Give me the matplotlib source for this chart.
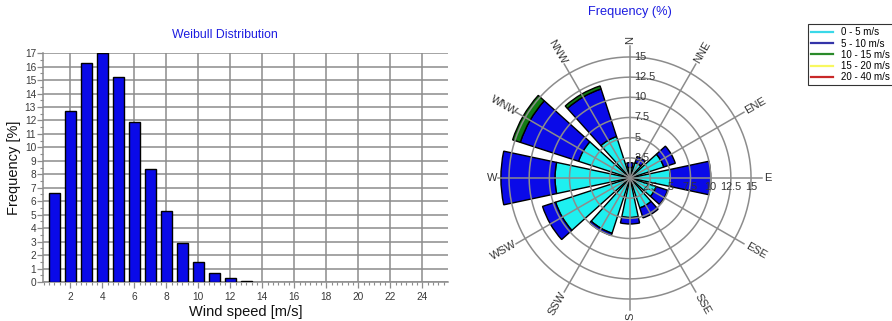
#!/usr/bin/env python3
"""
Weibull histogram of wind speed (left) and wind rose by speed class (right).
"""

import numpy as np
import matplotlib
matplotlib.use("Agg")
import matplotlib.pyplot as plt
from matplotlib.lines import Line2D
from matplotlib.ticker import MultipleLocator, AutoMinorLocator

plt.rcParams["font.family"] = ["Liberation Sans", "DejaVu Sans"]

# ── Weibull distribution (frequency % per 1 m/s bin) ────────────────────────
wind_bins = [1, 2, 3, 4, 5, 6, 7, 8, 9, 10, 11, 12, 13]
weibull_freq = [6.6, 12.7, 16.3, 17.0, 15.2, 11.9, 8.4, 5.3, 2.9, 1.5, 0.7, 0.28, 0.07]

# ── Wind rose: 12 sectors, frequency % per speed class ─────────────────────
sectors = ["N", "NNE", "ENE", "E", "ESE", "SSE", "S", "SSW", "WSW", "W", "WNW", "NNW"]
sector_deg = [0, 30, 60, 90, 120, 150, 180, 210, 240, 270, 300, 330]
freq_0_5 = [1.3, 2.0, 4.4, 5.0, 3.4, 3.9, 4.9, 7.2, 9.7, 9.3, 6.7, 5.4]
freq_5_10 = [0.6, 0.8, 1.5, 5.0, 1.5, 1.3, 0.8, 0.3, 1.7, 6.7, 7.6, 6.2]
freq_10_15 = [0, 0, 0, 0, 0, 0, 0, 0, 0, 0, 1.0, 0.4]
freq_15_20 = [0] * 12
freq_20_40 = [0] * 12

speed_classes = ["0 - 5 m/s", "5 - 10 m/s", "10 - 15 m/s", "15 - 20 m/s", "20 - 40 m/s"]
class_fill = ["#1ef0f0", "#0a0ae8", "#127a12", "#f5f53a", "#d02020"]
class_line = ["#3ad8e8", "#3434a8", "#2a8a2a", "#f8f860", "#c82828"]

ring_values = [2.5, 5, 7.5, 10, 12.5, 15]
ring_labels = ["2.5", "5", "7.5", "10", "12.5", "15"]

BLUE_TITLE = "#1c1ce0"
GRID = "#8c8c8c"
TICK_TXT = "#3a3a3a"


def draw_weibull(fig):
    ax = fig.add_axes([0.0482, 0.1215, 0.454, 0.713])
    ax.bar(wind_bins, weibull_freq, width=0.7, color="#0a0ae8",
           edgecolor="black", linewidth=1.0, zorder=3)

    ax.set_xlim(0.3, 25.6)
    ax.set_ylim(0, 17)
    ax.xaxis.set_major_locator(MultipleLocator(2))
    ax.xaxis.set_minor_locator(AutoMinorLocator(6))
    ax.yaxis.set_major_locator(MultipleLocator(1))
    ax.yaxis.set_minor_locator(MultipleLocator(0.5))
    ax.set_xticks(np.arange(2, 25, 2))

    ax.grid(True, which="major", color=GRID, linewidth=1.1, zorder=0)
    for side in ["top", "right"]:
        ax.spines[side].set_visible(False)
    for side in ["left", "bottom"]:
        ax.spines[side].set_color(GRID)
        ax.spines[side].set_linewidth(1.1)

    ax.tick_params(which="both", colors=GRID, labelcolor=TICK_TXT, labelsize=7.3)
    ax.tick_params(which="major", length=4, width=0.9)
    ax.tick_params(which="minor", length=2.5, width=0.8)
    ax.tick_params(axis="y", pad=1)

    ax.set_xlabel("Wind speed [m/s]", fontsize=10.5, labelpad=2, color="#111111")
    ax.set_ylabel("Frequency [%]", fontsize=10.5, labelpad=3, color="#111111")
    fig.text(225 / 892, 1 - 35 / 321, "Weibull Distribution", color=BLUE_TITLE,
             fontsize=8.8, ha="center", va="center")


def draw_rose(fig):
    ax = fig.add_axes([0.548, 0.0056, 0.3166, 0.8798], projection="polar")
    ax.set_theta_zero_location("N")
    ax.set_theta_direction(-1)
    ax.set_ylim(0, 17.5)
    ax.grid(False)
    ax.spines["polar"].set_visible(False)
    ax.set_xticks([])
    ax.set_yticks([])
    ax.patch.set_alpha(0)

    theta = np.deg2rad(sector_deg)
    width = np.deg2rad(24)
    bottom = np.zeros(len(sectors))
    for vals, col in zip([freq_0_5, freq_5_10, freq_10_15, freq_15_20, freq_20_40],
                         class_fill):
        vals = np.asarray(vals, dtype=float)
        mask = vals > 0
        ax.bar(theta[mask], vals[mask], width=width, bottom=bottom[mask],
               color=col, edgecolor="black", linewidth=1.0, zorder=2)
        bottom += vals

    # rings and spokes are drawn over the bars
    circ = np.linspace(0, 2 * np.pi, 361)
    for r in ring_values:
        ax.plot(circ, np.full_like(circ, r), color=GRID, linewidth=1.1, zorder=4)
    for t in theta:
        ax.plot([t, t], [0, 16.3], color=GRID, linewidth=1.1, zorder=4)

    # compass labels, rotated along each spoke
    for name, deg in zip(sectors, sector_deg):
        rot = (90 - deg) % 180
        if rot > 90:
            rot -= 180
        r_lab = 17.1 if len(name) == 1 else 18.0
        ax.text(np.deg2rad(deg), r_lab, name, rotation=rot, rotation_mode="anchor",
                ha="center", va="center", fontsize=8, color="#333333", zorder=5)

    # ring values along the N and E spokes
    for r, lab in zip(ring_values, ring_labels):
        ax.annotate(lab, xy=(0, r), xytext=(3, 0), textcoords="offset points",
                    ha="left", va="center", fontsize=7.8, color="#333333", zorder=5)
        ax.annotate(lab, xy=(np.pi / 2, r), xytext=(0, -3), textcoords="offset points",
                    ha="center", va="top", fontsize=7.8, color="#333333", zorder=5)

    fig.text(630 / 892, 1 - 12 / 321, "Frequency (%)", color=BLUE_TITLE,
             fontsize=9.2, ha="center", va="center")

    handles = [Line2D([], [], color=c, linewidth=1.6) for c in class_line]
    leg = fig.legend(handles, speed_classes, loc="upper left",
                     bbox_to_anchor=(808 / 892, 1 - 24 / 321), fontsize=7,
                     frameon=True, fancybox=False, handlelength=2.2,
                     handletextpad=0.8, labelspacing=0.12, borderpad=0.35,
                     borderaxespad=0)
    leg.get_frame().set_edgecolor("black")
    leg.get_frame().set_linewidth(0.8)


def main():
    fig = plt.figure(figsize=(8.92, 3.21), dpi=100)
    draw_weibull(fig)
    draw_rose(fig)
    fig.savefig("out.png", dpi=100)
    plt.close(fig)


if __name__ == "__main__":
    main()
